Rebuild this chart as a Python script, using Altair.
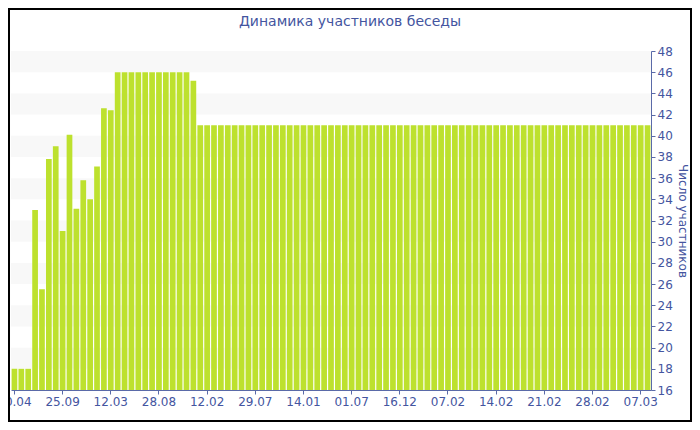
import altair as alt
import pandas as pd

# bar values (participants), one per period
values = [
    18, 18, 18, 33, 25.5, 37.8, 39, 31, 40.1, 33.1, 35.8, 34, 37.1, 42.6, 42.4,
    46, 46, 46, 46, 46, 46, 46, 46, 46, 46, 46, 45.2,
    41, 41, 41, 41, 41, 41, 41, 41, 41, 41, 41, 41, 41, 41, 41, 41, 41, 41, 41, 41, 41, 41,
    41, 41, 41, 41, 41, 41, 41, 41, 41, 41, 41, 41, 41, 41, 41, 41, 41, 41, 41, 41, 41, 41,
    41, 41, 41, 41, 41, 41, 41, 41, 41, 41, 41, 41, 41, 41, 41, 41, 41, 41, 41, 41, 41, 41,
]
tick_labels = ["10.04", "25.09", "12.03", "28.08", "12.02", "29.07", "14.01",
               "01.07", "16.12", "07.02", "14.02", "21.02", "28.02", "07.03"]
y_ticks = [16, 18, 20, 22, 24, 26, 28, 30, 32, 34, 36, 38, 40, 42, 44, 46, 48]
band_starts = [18, 22, 26, 30, 34, 38, 42, 46]
chart_title = "Динамика участников беседы"

TXT = "#4455a0"
AX = "#5a6aa8"
FONT = "DejaVu Sans"

df = pd.DataFrame({"i": list(range(len(values))), "v": values})
bands = pd.DataFrame({"y0": band_starts, "y1": [b + 2 for b in band_starts]})

W, H = 640, 339
yscale = alt.Scale(domain=[16, 48], nice=False, zero=False)

label_arr = "[" + ",".join("'%s'" % t for t in tick_labels) + "]"

yaxis = alt.Axis(
    orient="right",
    values=y_ticks,
    grid=False,
    title="Число участников",
    titleFont=FONT,
    titleFontSize=12,
    titleFontWeight="normal",
    titleColor=TXT,
    titlePadding=3,
    domainColor=AX,
    tickColor=AX,
    tickSize=4,
    labelPadding=2,
    labelColor=TXT,
    labelFont=FONT,
    labelFontSize=12,
)

band_layer = alt.Chart(bands).mark_rect(color="#f8f8f8").encode(
    y=alt.Y("y0:Q", scale=yscale, axis=yaxis),
    y2="y1:Q",
    x=alt.value(0),
    x2=alt.value(W),
)

bar_layer = alt.Chart(df).mark_bar(color="#bde12e").encode(
    x=alt.X(
        "i:O",
        scale=alt.Scale(paddingInner=0.17, paddingOuter=0.085),
        axis=alt.Axis(
            values=list(range(0, len(values), 7)),
            labelExpr=label_arr + "[round(datum.value / 7)]",
            labelAngle=0,
            title=None,
            domainColor=AX,
            tickColor=AX,
            tickSize=4,
            labelPadding=2,
            labelColor=TXT,
            labelFont=FONT,
            labelFontSize=12,
        ),
    ),
    y=alt.Y("v:Q", scale=yscale, axis=yaxis),
    y2=alt.datum(16),
)

title_layer = alt.Chart(pd.DataFrame({"t": [chart_title]})).mark_text(
    font=FONT, fontSize=14, color=TXT, align="center", baseline="middle"
).encode(text="t:N", x=alt.value(339), y=alt.value(-29))

frame = alt.Chart(pd.DataFrame({"a": [0]})).mark_rect(
    fill="transparent", stroke="black", strokeWidth=2
).encode(
    x=alt.value(-2), x2=alt.value(680), y=alt.value(-42), y2=alt.value(370)
)

chart = alt.layer(band_layer, bar_layer, title_layer, frame).properties(
    width=W,
    height=H,
    autosize=alt.AutoSizeParams(type="none"),
    padding={"left": 3, "top": 43, "right": 41, "bottom": 32},
).configure_view(stroke=None)

chart.save("out.html", embed_options={"renderer": "svg", "actions": False})
